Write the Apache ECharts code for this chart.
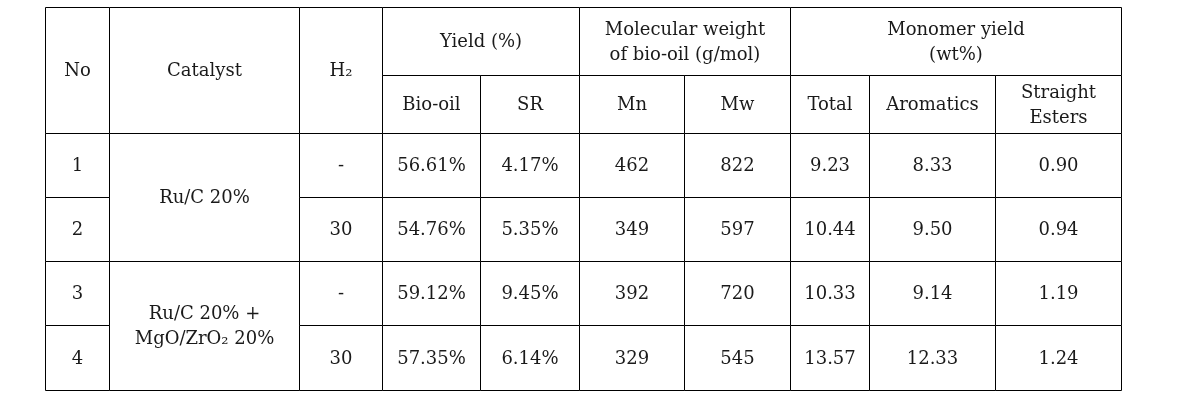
<!DOCTYPE html>
<html>
<head>
<meta charset="utf-8">
<script src="https://cdn.jsdelivr.net/npm/echarts@6/dist/echarts.min.js"></script>
<style>
  html, body { margin: 0; padding: 0; background: #fff; }
  #chart { width: 1179px; height: 409px; }
</style>
</head>
<body>
<div id="chart"></div>
<script>
// ---- Data ----
const groupHeaders = ['Yield (%)', 'Molecular weight\nof bio-oil (g/mol)', 'Monomer yield\n(wt%)'];
const fixedHeaders = ['No', 'Catalyst', 'H₂'];
const subHeaders = ['Bio-oil', 'SR', 'Mn', 'Mw', 'Total', 'Aromatics', 'Straight\nEsters'];
const runNo = ['1', '2', '3', '4'];
const catalysts = ['Ru/C 20%', 'Ru/C 20% +\nMgO/ZrO₂ 20%'];
const h2 = ['-', '30', '-', '30'];
const bioOil = ['56.61%', '54.76%', '59.12%', '57.35%'];
const sr = ['4.17%', '5.35%', '9.45%', '6.14%'];
const mn = ['462', '349', '392', '329'];
const mw = ['822', '597', '720', '545'];
const total = ['9.23', '10.44', '10.33', '13.57'];
const aromatics = ['8.33', '9.50', '9.14', '12.33'];
const esters = ['0.90', '0.94', '1.19', '1.24'];

// ---- Layout (pixel grid of the table) ----
const colEdges = [45, 109, 299, 382, 480, 579, 684, 790, 869, 995, 1121];
const rowEdges = [7, 75, 133, 197, 261, 325, 390];

// ---- Build cell list ----
const cells = [];
function addCell(c, r, cs, rs, text) { cells.push({ c, r, cs, rs, text }); }
fixedHeaders.forEach((t, i) => addCell(i, 0, 1, 2, t));
addCell(3, 0, 2, 1, groupHeaders[0]);
addCell(5, 0, 2, 1, groupHeaders[1]);
addCell(7, 0, 3, 1, groupHeaders[2]);
subHeaders.forEach((t, i) => addCell(3 + i, 1, 1, 1, t));
const cols = [bioOil, sr, mn, mw, total, aromatics, esters];
runNo.forEach((n, i) => {
  const r = 2 + i;
  addCell(0, r, 1, 1, n);
  if (i % 2 === 0) addCell(1, r, 1, 2, catalysts[i / 2]);
  addCell(2, r, 1, 1, h2[i]);
  cols.forEach((arr, k) => addCell(3 + k, r, 1, 1, arr[i]));
});

const seriesData = cells.map(cl => [
  colEdges[cl.c], rowEdges[cl.r], colEdges[cl.c + cl.cs], rowEdges[cl.r + cl.rs]
]);

const chart = echarts.init(document.getElementById('chart'), null, { renderer: 'canvas' });
chart.setOption({
  animation: false,
  backgroundColor: '#ffffff',
  grid: { left: 0, right: 0, top: 0, bottom: 0 },
  xAxis: { type: 'value', min: 0, max: 1179, show: false },
  yAxis: { type: 'value', min: 0, max: 409, inverse: true, show: false },
  series: [{
    type: 'custom',
    coordinateSystem: 'cartesian2d',
    encode: { x: [0, 2], y: [1, 3] },
    data: seriesData,
    renderItem: function (params, api) {
      const p0 = api.coord([api.value(0), api.value(1)]);
      const p1 = api.coord([api.value(2), api.value(3)]);
      const x0 = Math.round(p0[0]) + 0.5, y0 = Math.round(p0[1]) + 0.5;
      const x1 = Math.round(p1[0]) + 0.5, y1 = Math.round(p1[1]) + 0.5;
      const cl = cells[params.dataIndex];
      return {
        type: 'group',
        children: [
          {
            type: 'rect',
            shape: { x: x0, y: y0, width: x1 - x0, height: y1 - y0 },
            style: { fill: '#ffffff', stroke: '#000000', lineWidth: 1 }
          },
          {
            type: 'text',
            style: {
              text: cl.text,
              x: (x0 + x1) / 2,
              y: (y0 + y1) / 2 + 1,
              align: 'center',
              verticalAlign: 'middle',
              fontFamily: '"DejaVu Serif", serif',
              fontSize: 18,
              lineHeight: 25,
              fill: '#1a1a1a'
            }
          }
        ]
      };
    }
  }]
});
</script>
</body>
</html>
